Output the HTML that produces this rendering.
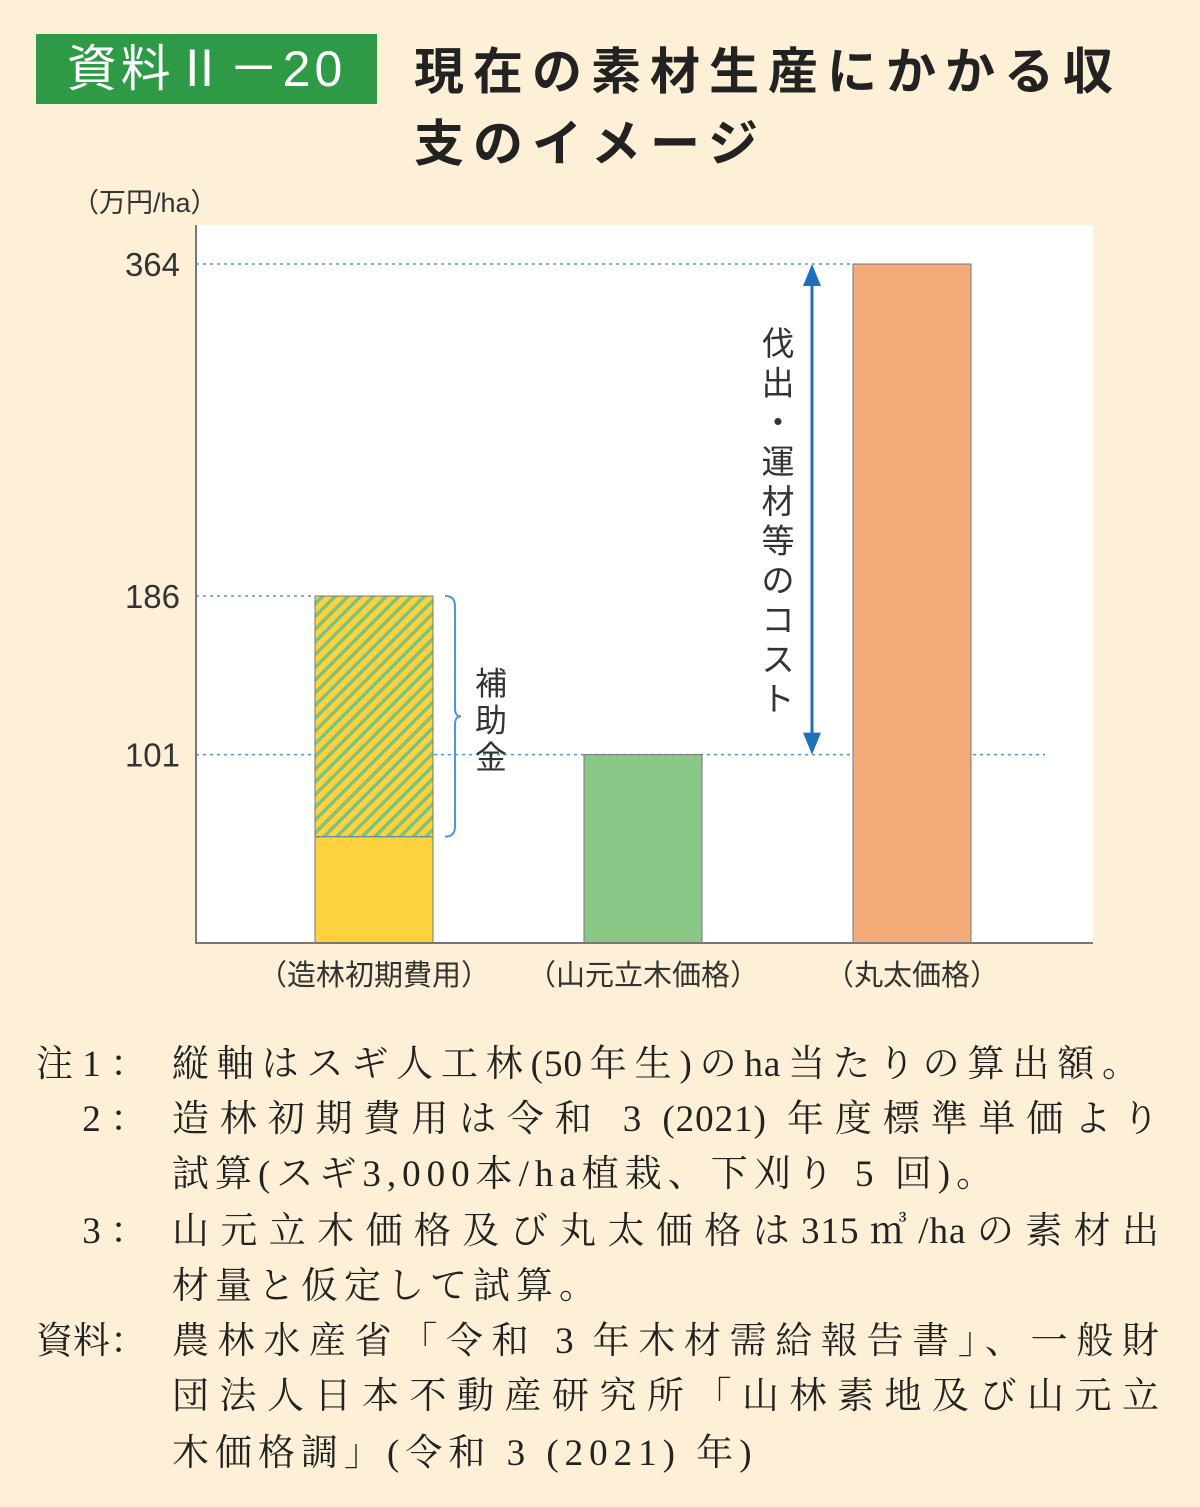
<!DOCTYPE html>
<html><head><meta charset="utf-8"><style>
body{margin:0;background:#fdf0d6;}
#page{position:relative;width:1200px;height:1507px;background:#fdf0d6;font-family:"Liberation Sans","Noto Sans CJK JP",sans-serif;overflow:hidden}
.note{position:absolute;left:36px;width:1130px;display:flex;font-family:"Liberation Serif","Noto Serif CJK SC",serif;font-size:37px;color:#222;white-space:nowrap}
.note .lab{width:136px;flex:none}
.note .tx{flex:none;width:988px;letter-spacing:1px}
.note .j{text-align:justify;text-align-last:justify}
.note .s{letter-spacing:6px}
</style></head><body>
<div id="page">
<div style="position:absolute;left:36px;top:34px;width:341px;height:70px;background:#2e9a45;color:#fff;font-size:50px;line-height:70px;text-align:center;letter-spacing:4px">資料Ⅱ－20</div>
<div style="position:absolute;left:414px;top:36px;font-size:50px;line-height:72px;font-weight:bold;color:#222;letter-spacing:9px">現在の素材生産にかかる収<br>支のイメージ</div>
<svg id="chart" width="1200" height="1010" style="position:absolute;left:0;top:0" font-family="Liberation Sans, Noto Sans CJK JP, sans-serif">
<defs><pattern id="hatch" patternUnits="userSpaceOnUse" width="9" height="9" patternTransform="rotate(45)">
<rect width="9" height="9" fill="#fdd23e"/><rect width="3.5" height="9" fill="#7fc27a"/></pattern></defs>
<rect x="196" y="225" width="897" height="718" fill="#fff"/>
<g id="g"></g>
</svg>
<div class="note" style="top:1033px"><span class="lab">注 1 ：</span><span class="tx j" style="width:968px">縦軸はスギ人工林(50年生)のha当たりの算出額。</span></div>
<div class="note" style="top:1088px"><span class="lab">　 2 ：</span><span class="tx j">造林初期費用は令和 3 (2021) 年度標準単価より</span></div>
<div class="note" style="top:1143px"><span class="lab"></span><span class="tx s">試算(スギ3,000本/ha植栽、下刈り 5 回)。</span></div>
<div class="note" style="top:1200px"><span class="lab">　 3 ：</span><span class="tx j">山元立木価格及び丸太価格は315㎥/haの素材出</span></div>
<div class="note" style="top:1255px"><span class="lab"></span><span class="tx s">材量と仮定して試算。</span></div>
<div class="note" style="top:1310px"><span class="lab">資料：</span><span class="tx j">農林水産省「令和 3 年木材需給報告書」、一般財</span></div>
<div class="note" style="top:1365px"><span class="lab"></span><span class="tx j">団法人日本不動産研究所「山林素地及び山元立</span></div>
<div class="note" style="top:1422px"><span class="lab"></span><span class="tx s">木価格調」(令和 3 (2021) 年)</span></div>
<script>
const categories=["（造林初期費用）","（山元立木価格）","（丸太価格）"];
const values=[186,101,364];
const baseValues=[57,0,0];
const tickValues=[101,186,364];
const colors=["#fdd23e","#88c784","#f3ab7a"];
const NS="http://www.w3.org/2000/svg";
const g=document.getElementById("g");
const y0=943,pxPer=(943-264)/364;
const y=v=>y0-v*pxPer;
const xc=i=>374+i*269;
const bw=118;
function mk(t,a){const e=document.createElementNS(NS,t);for(const k in a)e.setAttribute(k,a[k]);g.appendChild(e);return e;}
tickValues.forEach((v,i)=>{
 const l=mk("line",{x1:196,x2:v===364?855:(v===186?315:1045),y1:y(v),y2:y(v),stroke:"#4a9ad6","stroke-width":1.5,"stroke-dasharray":"3,4"});
 
 
 const t=mk("text",{x:180,y:y(v)+12,"text-anchor":"end","font-size":33,fill:"#333"});t.textContent=v;
 
 
});
const u=mk("text",{x:72,y:212,"font-size":27,fill:"#333"});u.textContent="（万円/ha）";


values.forEach((v,i)=>{
 const x=xc(i)-bw/2;
 if(baseValues[i]>0){
  const b=mk("rect",{x:x,y:y(baseValues[i]),width:bw,height:y(0)-y(baseValues[i]),fill:colors[i],stroke:"#777","stroke-width":1});
  
  
  const h=mk("rect",{x:x,y:y(v),width:bw,height:y(baseValues[i])-y(v),fill:"url(#hatch)",stroke:"#777","stroke-width":1});
  
  
  const d=mk("line",{x1:x,x2:x+bw,y1:y(baseValues[i]),y2:y(baseValues[i]),stroke:"#4a9ad6","stroke-width":1.5,"stroke-dasharray":"3,4"});
  
  
  const bx=x+bw+12,t1=y(v),t2=y(baseValues[i]),m=(t1+t2)/2;
  const p=mk("path",{d:`M${bx},${t1} q10,0 10,10 L${bx+10},${m-8} q0,8 6,8 q-6,0 -6,8 L${bx+10},${t2-10} q0,10 -10,10`,fill:"none",stroke:"#4a9ad6","stroke-width":2});
  
  
  ["補","助","金"].forEach((c,k)=>{const t=mk("text",{x:bx+46,y:m-22+k*37,"text-anchor":"middle","font-size":32,fill:"#333"});t.textContent=c;
   
   });
 }else{
  const b=mk("rect",{x:x,y:y(v),width:bw,height:y(0)-y(v),fill:colors[i],stroke:"#777","stroke-width":1});
  
  
 }
 const t=mk("text",{x:xc(i),y:985,"text-anchor":"middle","font-size":29,fill:"#333"});t.textContent=categories[i];
 
 
});
const ax=mk("path",{d:"M196,225 L196,943 L1093,943",fill:"none",stroke:"#777","stroke-width":2});


const ay1=y(values[2]),ay2=y(values[1]);
const ar=mk("line",{x1:812,x2:812,y1:ay1+12,y2:ay2-12,stroke:"#1f6fbf","stroke-width":3});


const h1=mk("path",{d:`M812,${ay1} l-9,22 l18,0 z M812,${ay2} l-9,-22 l18,0 z`,fill:"#1f6fbf"});


const lbl="伐出・運材等のコスト".split("");
lbl.forEach((c,k)=>{const t=mk("text",{x:778,y:355+k*39.5,"text-anchor":"middle","font-size":33,fill:"#333"});t.textContent=c;
 
 });
</script>
</div></body></html>
